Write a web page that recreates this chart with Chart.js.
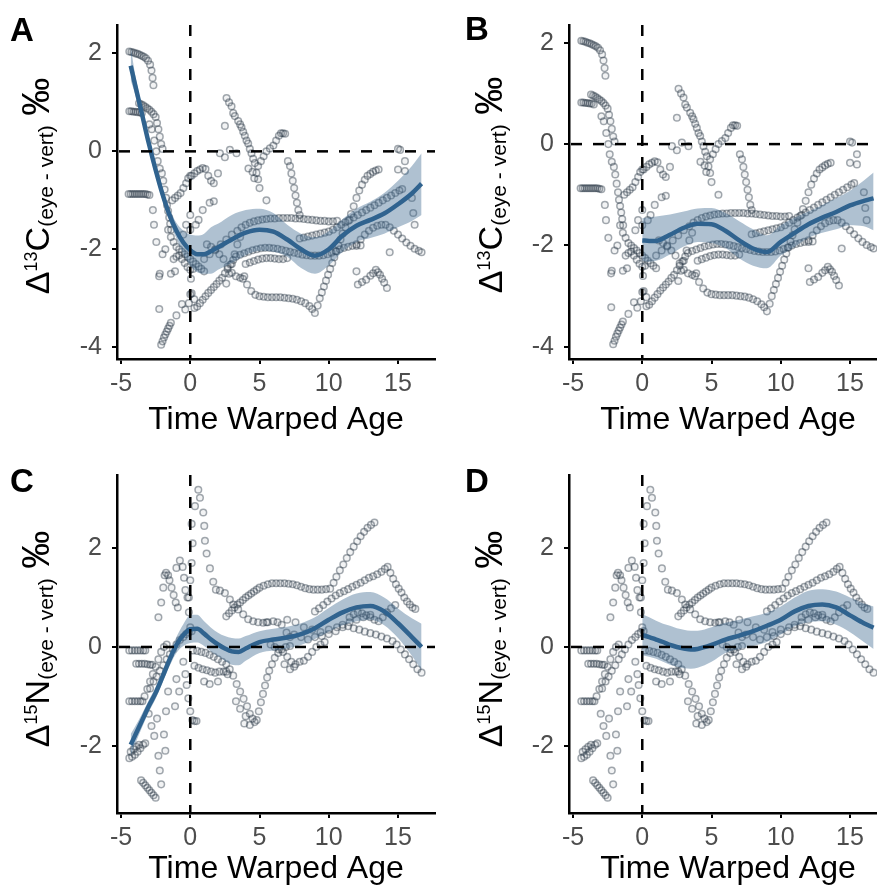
<!DOCTYPE html>
<html lang="en">
<head>
<meta charset="UTF-8">
<title>Eye - vertebra isotope offsets by time warped age</title>
<script src="https://cdn.jsdelivr.net/npm/chart.js"></script>
<style>
  html, body { margin: 0; padding: 0; background: #fff; }
  body { width: 877px; height: 890px; overflow: hidden; position: relative;
         font-family: "Liberation Sans", Arial, sans-serif; }
  canvas { position: absolute; }
  .tag { position: absolute; font-weight: bold; font-size: 33px; line-height: 1; color: #000; }
  .ytitle { position: absolute; white-space: nowrap; font-size: 34px; line-height: 1; color: #000;
            transform: translate(-50%, -50%) rotate(-90deg); }
  .ytitle sup { font-size: 18px; vertical-align: 12px; line-height: 0; }
  .ytitle sub { font-size: 21px; vertical-align: -4px; line-height: 0; }
  .ytitle .pm { font-size: 38px; }
</style>
</head>
<body>
<canvas id="panelA" width="440" height="445" style="left:0;top:0"></canvas>
<canvas id="panelB" width="440" height="445" style="left:452px;top:0"></canvas>
<canvas id="panelC" width="440" height="440" style="left:0;top:450px"></canvas>
<canvas id="panelD" width="440" height="440" style="left:452px;top:450px"></canvas>

<div class="tag" style="left:10px;top:13px">A</div>
<div class="tag" style="left:465px;top:12px">B</div>
<div class="tag" style="left:10px;top:464px">C</div>
<div class="tag" style="left:465px;top:464px">D</div>

<div class="ytitle" style="left:36px;top:186px">Δ<sup>13</sup>C<sub>(eye - vert)</sub> <span class="pm">‰</span></div>
<div class="ytitle" style="left:489px;top:185px">Δ<sup>13</sup>C<sub>(eye - vert)</sub> <span class="pm">‰</span></div>
<div class="ytitle" style="left:36px;top:639px">Δ<sup>15</sup>N<sub>(eye - vert)</sub> <span class="pm">‰</span></div>
<div class="ytitle" style="left:489px;top:639px">Δ<sup>15</sup>N<sub>(eye - vert)</sub> <span class="pm">‰</span></div>

<script>
// tick values
const ageTicks = [-5, 0, 5, 10, 15];
const carbonTicks = [2, 0, -2, -4];
const nitrogenTicks = [2, 0, -2];

// smoother over all ages (panels A, C)
const fitAgeAllC = [-4.3, -4, -3.5, -3, -2.5, -2, -1.5, -1, -0.5, 0, 0.5, 1, 1.5, 2, 3, 4, 5, 6, 7, 8, 9, 10, 11, 12, 13, 14, 15, 16, 16.7];
const carbonFitAll = [1.75, 1.38, 0.78, 0.17, -0.38, -0.88, -1.3, -1.62, -1.86, -2.02, -2.1, -2.1, -2.04, -1.96, -1.8, -1.66, -1.6, -1.64, -1.8, -2.0, -2.13, -2.0, -1.72, -1.52, -1.4, -1.27, -1.08, -0.86, -0.66];
const carbonHiAll = [2.15, 1.6, 0.93, 0.3, -0.25, -0.76, -1.17, -1.46, -1.62, -1.7, -1.72, -1.68, -1.55, -1.48, -1.3, -1.2, -1.17, -1.26, -1.5, -1.68, -1.75, -1.63, -1.38, -1.17, -1.03, -0.85, -0.6, -0.3, -0.04];
const carbonLoAll = [1.45, 1.18, 0.63, 0.04, -0.51, -1.0, -1.43, -1.78, -2.1, -2.33, -2.47, -2.5, -2.5, -2.42, -2.28, -2.12, -2.03, -2.05, -2.15, -2.38, -2.5, -2.33, -2.05, -1.85, -1.77, -1.68, -1.55, -1.42, -1.3];

const fitAgeAllN = [-4.3, -4, -3.5, -3, -2.5, -2, -1.5, -1, -0.5, 0, 0.5, 1, 1.5, 2, 2.5, 3, 3.5, 4, 5, 6, 7, 8, 9, 10, 11, 12, 13, 14, 15, 16, 16.7];
const nitrogenFitAll = [-1.98, -1.8, -1.5, -1.2, -0.93, -0.6, -0.26, 0.04, 0.24, 0.36, 0.37, 0.27, 0.15, 0.05, -0.03, -0.09, -0.1, -0.03, 0.1, 0.15, 0.19, 0.26, 0.38, 0.55, 0.7, 0.8, 0.83, 0.72, 0.48, 0.2, 0.0];
const nitrogenHiAll = [-1.76, -1.62, -1.36, -1.08, -0.81, -0.48, -0.13, 0.2, 0.46, 0.64, 0.65, 0.52, 0.39, 0.29, 0.22, 0.18, 0.17, 0.22, 0.32, 0.37, 0.41, 0.48, 0.6, 0.79, 0.96, 1.08, 1.11, 1.0, 0.78, 0.58, 0.47];
const nitrogenLoAll = [-2.2, -1.98, -1.64, -1.32, -1.05, -0.72, -0.39, -0.12, 0.02, 0.08, 0.09, 0.02, -0.09, -0.19, -0.28, -0.36, -0.37, -0.28, -0.12, -0.07, -0.03, 0.04, 0.16, 0.31, 0.44, 0.52, 0.55, 0.44, 0.18, -0.18, -0.47];

// smoother from age 0 on (panels B, D)
const fitAgePostC = [0, 0.5, 1, 1.5, 2, 3, 4, 5, 6, 7, 8, 9, 10, 11, 12, 13, 14, 15, 16, 16.7];
const carbonFitPost = [-1.9, -1.91, -1.91, -1.86, -1.79, -1.65, -1.57, -1.58, -1.71, -1.9, -2.06, -2.13, -1.93, -1.75, -1.58, -1.45, -1.34, -1.21, -1.12, -1.07];
const carbonHiPost = [-1.46, -1.45, -1.43, -1.41, -1.39, -1.33, -1.27, -1.26, -1.36, -1.52, -1.68, -1.8, -1.6, -1.45, -1.33, -1.2, -1.07, -0.92, -0.72, -0.56];
const carbonLoPost = [-2.3, -2.32, -2.3, -2.25, -2.18, -2.02, -1.93, -1.95, -2.05, -2.25, -2.4, -2.45, -2.2, -2.03, -1.85, -1.75, -1.68, -1.6, -1.62, -1.7];

const fitAgePostN = [0, 0.5, 1, 1.5, 2, 2.5, 3, 3.5, 4, 5, 6, 7, 8, 9, 10, 11, 12, 13, 14, 15, 16, 16.7];
const nitrogenFitPost = [0.24, 0.2, 0.15, 0.1, 0.04, 0.0, -0.03, -0.05, -0.04, 0.04, 0.15, 0.23, 0.32, 0.43, 0.55, 0.72, 0.83, 0.86, 0.8, 0.64, 0.48, 0.39];
const nitrogenHiPost = [0.66, 0.6, 0.53, 0.47, 0.43, 0.38, 0.35, 0.33, 0.33, 0.4, 0.49, 0.55, 0.62, 0.69, 0.82, 1.0, 1.14, 1.17, 1.12, 1.0, 0.88, 0.82];
const nitrogenLoPost = [-0.17, -0.2, -0.24, -0.3, -0.36, -0.4, -0.43, -0.44, -0.42, -0.3, -0.12, -0.04, 0.02, 0.1, 0.25, 0.42, 0.5, 0.52, 0.45, 0.3, 0.1, -0.04];

// individual trajectories, [age, offset]
const carbonTracks = [
  [[-4.4,2.04],[-4.25,2.03],[-4.1,2.02],[-3.95,2.0],[-3.8,1.99],[-3.65,1.97],[-3.5,1.95],[-3.35,1.93],[-3.2,1.9],[-3.05,1.85],[-2.9,1.77],[-2.8,1.65],[-2.72,1.5],[-2.66,1.35]],
  [[-4.4,0.82],[-4.25,0.82],[-4.1,0.81],[-3.95,0.81],[-3.8,0.8],[-3.65,0.8],[-3.5,0.78]],
  [[-3.7,0.98],[-3.55,0.96],[-3.4,0.94],[-3.25,0.91],[-3.1,0.88],[-2.95,0.85],[-2.8,0.81],[-2.65,0.76],[-2.5,0.7],[-2.4,0.58],[-2.3,0.45],[-2.2,0.3],[-2.1,0.15],[-2.0,0.05]],
  [[-2.95,0.55],[-2.78,0.45],[-2.6,0.22],[-2.45,0.0],[-2.35,-0.2],[-2.2,-0.35],[-2.05,-0.45],[-1.95,-0.6],[-1.85,-0.78],[-1.75,-0.95],[-1.68,-1.1],[-1.6,-1.22],[-1.52,-1.35],[-1.45,-1.48],[-1.38,-1.6]],
  [[-4.45,-0.87],[-4.3,-0.87],[-4.15,-0.87],[-4.0,-0.87],[-3.85,-0.87],[-3.7,-0.87],[-3.55,-0.87],[-3.4,-0.87],[-3.25,-0.87],[-3.1,-0.88],[-2.95,-0.89]],
  [[-2.7,-1.2],[-2.62,-1.5],[-2.45,-1.85],[-2.25,-2.55],[-2.24,-3.22]],
  [[-2.1,-3.95],[-2.0,-3.88],[-1.9,-3.8],[-1.8,-3.74],[-1.7,-3.68],[-1.6,-3.62],[-1.5,-3.56],[-1.4,-3.5],[-1.0,-3.35],[-0.6,-3.12],[-0.36,-3.23],[0.0,-2.92],[0.29,-3.02]],
  [[0.3,-3.2],[0.5,-3.17],[0.7,-3.1],[0.9,-3.03],[1.1,-2.96],[1.3,-2.89],[1.5,-2.83],[1.7,-2.77],[1.9,-2.71],[2.1,-2.64],[2.3,-2.58],[2.5,-2.49],[2.7,-2.4],[2.9,-2.31],[3.1,-2.22],[3.3,-2.15],[3.6,-2.11],[3.9,-2.08],[4.2,-2.05],[4.5,-2.02],[4.8,-2.0],[5.1,-1.98],[5.4,-1.97],[5.7,-1.97],[6.0,-1.98],[6.3,-1.99],[6.6,-2.01],[6.9,-2.03],[7.2,-2.05],[7.5,-2.07],[7.8,-2.09],[8.1,-2.11],[8.4,-2.12],[8.7,-2.13],[9.0,-2.13],[9.3,-2.13],[9.6,-2.12],[9.9,-2.1],[10.2,-2.07],[10.5,-2.04],[10.8,-2.0],[11.1,-1.97],[11.4,-1.95],[11.7,-1.93],[12.0,-1.93],[12.3,-1.92]],
  [[1.0,-2.2],[1.4,-2.1],[1.8,-2.0],[2.2,-1.9],[2.6,-1.8],[3.0,-1.7],[3.4,-1.62],[3.7,-1.55],[4.0,-1.5],[4.3,-1.46],[4.6,-1.43],[4.9,-1.41],[5.2,-1.39],[5.5,-1.38],[5.8,-1.37],[6.1,-1.37],[6.4,-1.36],[6.7,-1.36],[7.0,-1.36],[7.3,-1.36],[7.6,-1.37],[7.9,-1.37],[8.2,-1.38],[8.5,-1.39],[8.8,-1.4],[9.1,-1.41],[9.4,-1.42],[9.7,-1.42],[10.0,-1.43],[10.3,-1.43],[10.6,-1.42]],
  [[7.9,-1.78],[8.2,-1.76],[8.5,-1.74],[8.8,-1.72],[9.1,-1.7],[9.4,-1.68],[9.7,-1.66],[10.0,-1.64],[10.3,-1.6],[10.6,-1.55],[10.9,-1.5],[11.2,-1.45],[11.5,-1.4],[11.8,-1.35],[12.1,-1.3],[12.4,-1.25],[12.7,-1.2],[13.0,-1.15],[13.3,-1.1],[13.6,-1.05],[13.9,-1.0],[14.2,-0.95],[14.5,-0.9],[14.8,-0.85],[15.1,-0.8],[15.3,-0.77]],
  [[3.8,-2.6],[4.1,-2.72],[4.4,-2.85],[4.7,-2.93],[5.0,-2.96],[5.3,-2.97],[5.6,-2.98],[5.9,-2.98],[6.2,-2.98],[6.5,-2.98],[6.8,-2.99],[7.1,-3.0],[7.4,-3.01],[7.7,-3.03],[8.0,-3.06],[8.3,-3.1],[8.6,-3.16],[8.8,-3.22],[9.0,-3.3],[9.2,-3.15],[9.35,-3.0],[9.5,-2.88],[9.65,-2.76],[9.8,-2.64],[9.95,-2.52],[10.1,-2.4],[10.25,-2.28],[10.4,-2.16],[10.55,-2.04],[10.7,-1.92],[10.85,-1.8],[11.0,-1.68],[11.2,-1.55],[11.4,-1.42],[11.6,-1.28],[11.8,-1.12],[12.0,-0.95],[12.2,-0.8],[12.4,-0.68],[12.6,-0.58],[12.8,-0.5],[13.0,-0.46],[13.2,-0.42],[13.4,-0.39],[13.6,-0.37]],
  [[12.0,-1.9],[12.3,-1.8],[12.6,-1.7],[12.9,-1.62],[13.2,-1.56],[13.5,-1.52],[13.8,-1.5],[14.1,-1.5],[14.4,-1.55],[14.7,-1.62],[15.0,-1.7],[15.3,-1.78],[15.6,-1.86],[15.9,-1.93],[16.2,-1.99],[16.5,-2.03],[16.7,-2.06]],
  [[12.1,-2.72],[12.4,-2.67],[12.7,-2.62],[13.0,-2.54],[13.2,-2.49],[13.4,-2.42],[13.55,-2.47],[13.7,-2.52],[13.85,-2.6],[14.0,-2.68],[14.2,-2.79]],
  [[15.0,0.05],[15.15,0.03],[15.5,-0.2],[15.0,-0.37],[15.5,-0.4],[16.0,-0.95],[16.1,-1.26],[16.2,-1.5],[14.4,-2.06],[12.0,-2.45]],
  [[2.5,0.52],[2.62,1.09],[2.8,1.0],[2.98,0.92],[3.1,0.78],[3.22,0.72],[3.46,0.62],[3.6,0.55],[3.7,0.49],[3.82,0.4],[3.94,0.32],[4.06,0.22],[4.18,0.16],[4.3,0.05],[4.42,-0.04],[4.54,-0.15],[4.66,-0.24],[4.78,-0.44],[4.9,-0.57],[5.0,-0.75]],
  [[2.14,-0.04],[2.86,0.03],[3.34,-0.04],[4.2,-0.35],[4.5,-0.42],[4.62,-0.55],[5.5,-1.0]],
  [[4.9,-0.3],[5.1,-0.2],[5.3,-0.1],[5.5,0.0],[5.75,0.06],[6.0,0.12],[6.2,0.22],[6.4,0.32],[6.55,0.37],[6.7,0.37],[6.85,0.36],[7.05,-0.2],[7.2,-0.3],[7.3,-0.45],[7.4,-0.6],[7.5,-0.75],[7.6,-0.9],[7.7,-1.05],[7.8,-1.2],[7.9,-1.3]],
  [[0.1,-0.5],[0.3,-0.45],[0.5,-0.4],[0.7,-0.37],[0.9,-0.34],[1.1,-0.36],[1.3,-0.5],[1.5,-0.6],[1.7,-0.65],[1.4,-1.05],[1.7,-1.02],[0.9,-1.2],[2.0,-0.45],[2.5,-0.12]],
  [[-1.3,-1.0],[-1.1,-0.95],[-0.9,-0.9],[-0.7,-0.85],[-0.5,-0.75],[-0.3,-0.65],[-0.15,-0.55],[0.0,-0.5]],
  [[-1.6,-1.6],[-1.4,-1.75],[-1.2,-1.85],[-1.0,-1.95],[-0.8,-2.0],[-0.6,-2.05],[-0.4,-2.1],[-0.2,-2.15],[0.0,-2.2],[0.2,-2.25],[0.4,-2.3],[0.6,-2.35],[0.8,-2.4],[1.0,-2.45]],
  [[-1.2,-2.2],[-1.0,-2.15],[-0.8,-2.12],[-0.6,-2.2],[-0.4,-2.28],[-0.2,-2.36],[0.0,-2.42],[0.2,-2.4]],
  [[-1.4,-2.5],[-1.1,-2.45],[-0.5,-1.7],[-0.3,-1.5],[0.4,-1.5],[0.6,-1.4],[-2.2,-2.5],[-2.0,-2.1],[-1.8,-2.0],[0.0,-1.3],[0.0,-1.6],[0.05,-2.6],[0.1,-2.9],[-0.1,-3.1]],
  [[1.2,-1.9],[1.5,-1.95],[1.8,-2.02],[2.1,-2.1],[2.4,-2.2],[2.7,-2.35],[3.0,-2.48],[3.3,-2.55],[3.6,-2.58],[3.9,-2.55]],
  [[2.6,-2.7],[2.8,-2.5],[3.0,-2.3],[3.2,-2.1],[3.4,-1.9],[3.6,-1.75]],
  [[4.0,-2.3],[4.3,-2.27],[4.6,-2.24],[4.9,-2.21],[5.2,-2.19],[5.5,-2.18],[5.8,-2.18],[6.1,-2.19],[6.4,-2.2],[6.7,-2.2],[7.0,-2.18]]
];

const nitrogenTracks = [
  [[0.58,3.18],[0.7,3.02],[0.34,2.85],[0.94,2.72],[0.1,2.49],[1.01,2.45],[0.17,2.1],[1.06,2.15],[1.18,1.89],[1.42,1.59],[1.66,1.32],[1.85,1.16],[2.14,1.14],[2.5,1.09],[2.86,0.96],[3.1,0.86],[3.46,0.76],[3.82,0.66],[4.18,0.56],[4.54,0.52],[4.9,0.5],[5.26,0.49],[5.6,0.5],[5.99,0.52],[6.3,0.5],[6.6,0.45],[6.95,0.29],[7.2,0.2]],
  [[0.1,1.7],[0.0,1.35],[-0.1,1.0],[-0.1,0.7],[0.0,0.4]],
  [[2.6,0.62],[2.8,0.68],[3.0,0.74],[3.2,0.8],[3.4,0.86],[3.6,0.9],[3.8,0.95],[4.0,1.0],[4.2,1.04],[4.4,1.08],[4.6,1.12],[4.8,1.16],[5.0,1.2],[5.3,1.24],[5.6,1.27],[5.9,1.29],[6.2,1.29],[6.5,1.29],[6.8,1.29],[7.1,1.28],[7.4,1.27],[7.7,1.25],[8.0,1.22],[8.3,1.19],[8.6,1.17],[8.9,1.16],[9.2,1.16],[9.5,1.16],[9.8,1.17],[10.1,1.18],[10.35,1.3],[10.55,1.42],[10.8,1.55],[11.05,1.67],[11.3,1.8],[11.55,1.92],[11.8,2.03],[12.05,2.14],[12.3,2.24],[12.55,2.33],[12.8,2.41],[13.05,2.47],[13.3,2.52]],
  [[9.0,0.72],[9.3,0.78],[9.6,0.85],[9.9,0.92],[10.2,0.98],[10.5,1.04],[10.8,1.09],[11.1,1.13],[11.4,1.17],[11.7,1.22],[12.0,1.26],[12.3,1.3],[12.6,1.35],[12.9,1.4],[13.2,1.43],[13.5,1.47],[13.8,1.52],[14.05,1.58],[14.25,1.62],[14.45,1.5],[14.65,1.38],[14.85,1.27],[15.05,1.18],[15.25,1.1],[15.45,1.0],[15.65,0.92],[15.85,0.86],[16.05,0.8],[16.25,0.77]],
  [[11.0,0.45],[11.4,0.42],[11.8,0.38],[12.2,0.35],[12.6,0.31],[13.0,0.28],[13.4,0.25],[13.8,0.21],[14.2,0.17],[14.6,0.12],[14.9,0.05],[15.2,-0.05],[15.5,-0.15],[15.8,-0.25],[16.1,-0.35],[16.4,-0.45],[16.7,-0.52]],
  [[11.5,0.6],[11.8,0.66],[12.1,0.7],[12.4,0.68],[12.7,0.64],[13.0,0.6],[13.3,0.55],[13.6,0.52],[13.9,0.6],[14.2,0.7],[14.5,0.78],[14.8,0.85]],
  [[-4.4,-0.07],[-4.2,-0.07],[-4.0,-0.07],[-3.8,-0.07],[-3.6,-0.07],[-3.4,-0.07],[-3.25,-0.07]],
  [[-3.9,-0.34],[-3.7,-0.34],[-3.5,-0.34],[-3.3,-0.34],[-3.1,-0.35],[-2.9,-0.36],[-2.75,-0.36]],
  [[-4.4,-1.1],[-4.2,-1.1],[-4.0,-1.1],[-3.8,-1.1],[-3.6,-1.1],[-3.45,-1.1],[-3.3,-1.0],[-3.1,-0.85],[-2.9,-0.7],[-2.7,-0.55],[-2.5,-0.4],[-2.3,-0.25],[-2.1,-0.1],[-1.9,0.0],[-1.7,0.05]],
  [[-4.4,-2.25],[-4.2,-2.22],[-4.0,-2.18],[-3.8,-2.12],[-3.6,-2.05],[-3.4,-1.98],[-3.25,-1.95]],
  [[-4.3,-2.12],[-4.1,-2.07],[-3.9,-2.02],[-3.7,-1.98]],
  [[-3.55,-2.7],[-3.4,-2.75],[-3.25,-2.8],[-3.1,-2.85],[-2.95,-2.9],[-2.8,-2.95],[-2.65,-3.0],[-2.5,-3.05]],
  [[-2.2,-2.5],[-2.1,-2.78],[-2.3,-2.2],[-1.9,-1.77],[-1.75,-1.3],[-1.6,-0.9],[-3.0,-1.35],[-2.8,-1.6],[-2.6,-1.8],[-2.4,-1.45],[-1.8,-2.1],[-1.0,-0.65],[-1.1,-1.2],[-0.8,-0.9]],
  [[-2.3,0.6],[-2.1,0.9],[-1.95,1.2],[-1.85,1.45],[-1.75,1.5],[-1.6,1.45],[-1.5,1.35],[-1.35,1.2],[-1.2,1.05],[-1.05,0.9],[-0.9,0.8]],
  [[-1.0,1.6],[-0.75,1.75],[-0.55,1.62],[-0.45,1.4],[-0.35,1.15],[-0.2,1.0]],
  [[-2.9,-0.84],[-2.65,-0.7],[-2.43,-0.6],[-2.2,-0.48],[-1.95,-0.37],[-1.7,-0.25],[-1.47,-0.15],[-1.25,-0.05],[-1.0,0.05],[-0.75,0.14],[-0.5,0.2],[-0.3,0.26],[-0.1,0.3],[0.1,0.32]],
  [[-0.5,-0.3],[-0.35,-0.55],[-0.26,-0.77],[-0.14,-1.04],[0.0,-1.3],[0.15,-1.48],[0.3,-1.5],[0.45,-1.5]],
  [[0.2,-0.07],[0.5,-0.08],[0.8,-0.1],[1.1,-0.12],[1.4,-0.16],[1.7,-0.2],[2.0,-0.25],[2.3,-0.3],[2.6,-0.35],[2.85,-0.45],[3.1,-0.58],[3.35,-0.75],[3.6,-0.9],[3.85,-1.05],[4.1,-1.2],[4.3,-1.35],[4.5,-1.45],[4.65,-1.52],[4.8,-1.48],[4.95,-1.3],[5.1,-1.12],[5.25,-0.95],[5.4,-0.78],[5.55,-0.62],[5.7,-0.48],[5.9,-0.35],[6.1,-0.22],[6.35,-0.12],[6.6,-0.05],[6.9,0.0],[7.2,0.02]],
  [[0.3,-0.38],[0.6,-0.42],[0.9,-0.45],[1.2,-0.47],[1.5,-0.5],[1.8,-0.52],[2.1,-0.5],[2.4,-0.5],[2.6,-0.5],[2.7,-0.55]],
  [[1.0,-0.7],[1.4,-0.75],[2.0,-0.7],[3.3,-1.1],[3.6,-1.25],[4.0,-1.4],[4.3,-1.58],[3.9,-1.55]],
  [[5.8,0.05],[6.1,0.0],[6.4,-0.05],[6.7,-0.1],[7.0,-0.2],[7.3,-0.3],[7.6,-0.35],[7.9,-0.3],[8.2,-0.28],[8.5,-0.2],[8.8,-0.1],[9.1,0.0],[9.4,0.05],[9.7,0.1]],
  [[6.8,-0.35],[7.2,-0.45],[7.5,-0.4]],
  [[5.5,0.5],[7.0,0.55],[7.6,0.5],[8.2,0.4],[8.8,0.35],[9.4,0.3],[10.0,0.35],[10.6,0.4]],
  [[7.5,0.25],[8.0,0.2],[8.5,0.15],[9.0,0.2],[9.5,0.22],[10.0,0.26],[10.5,0.32],[11.0,0.4],[11.5,0.5],[12.0,0.55],[12.5,0.6],[13.0,0.65]]
];

const FONT = '"Liberation Sans", Arial, sans-serif';
const lineBlue = '#30638f';
const bandFill = 'rgba(54, 100, 139, 0.4)';

// dashed reference lines at age 0 and offset 0
const zeroLines = {
  id: 'zeroLines',
  afterDatasetsDraw(chart) {
    const {ctx, chartArea: a, scales: {x, y}} = chart;
    const px = x.getPixelForValue(0), py = y.getPixelForValue(0);
    ctx.save();
    ctx.beginPath();
    ctx.rect(a.left, a.top, a.width, a.height);
    ctx.clip();
    ctx.strokeStyle = '#000';
    ctx.lineWidth = 2.5;
    ctx.setLineDash([11, 11]);
    ctx.beginPath(); ctx.moveTo(a.left + 2, py); ctx.lineTo(a.right, py); ctx.stroke();
    ctx.beginPath(); ctx.moveTo(px, a.top); ctx.lineTo(px, a.bottom); ctx.stroke();
    ctx.restore();
  }
};

function panelChart(id, cfg) {
  const xy = arr => cfg.fitAge.map((x, i) => ({x, y: arr[i]}));
  const pts = cfg.tracks.flat().map(([x, y]) => ({x, y}));
  const smooth = {type: 'line', pointRadius: 0, cubicInterpolationMode: 'monotone'};
  return new Chart(document.getElementById(id), {
    type: 'scatter',
    data: {
      datasets: [
        {...smooth, data: xy(cfg.fit), borderColor: lineBlue, borderWidth: 4.5, fill: false, order: 0},
        {...smooth, data: xy(cfg.lo), borderColor: 'transparent', borderWidth: 0, fill: false, order: 1},
        {...smooth, data: xy(cfg.hi), borderColor: 'transparent', borderWidth: 0, fill: 1, backgroundColor: bandFill, order: 2},
        {data: pts, pointRadius: 3.3, borderWidth: 1.5, borderColor: 'rgba(35, 50, 65, 0.42)',
         backgroundColor: 'rgba(35, 50, 65, 0.06)', order: 3}
      ]
    },
    options: {
      responsive: false,
      animation: false,
      events: [],
      layout: {autoPadding: false, padding: {top: cfg.padTop, right: 5, left: 0, bottom: 0}},
      plugins: {legend: {display: false}, tooltip: {enabled: false}},
      scales: {
        x: {
          type: 'linear', min: -5.29, max: 17.67,
          afterBuildTicks: s => { s.ticks = ageTicks.map(v => ({value: v})); },
          afterFit: s => { s.height = cfg.xHeight; },
          border: {display: true, color: '#000', width: 2.5},
          grid: {drawOnChartArea: false, drawTicks: true, tickLength: 5, color: '#000', lineWidth: 2},
          ticks: {color: '#4d4d4d', font: {family: FONT, size: 25}, padding: 5, maxRotation: 0,
                  autoSkip: false, callback: v => String(v)},
          title: {display: true, text: 'Time Warped Age', color: '#000',
                  font: {family: FONT, size: 32}, padding: {top: 0, bottom: cfg.titlePad}}
        },
        y: {
          type: 'linear', min: cfg.yMin, max: cfg.yMax,
          afterBuildTicks: s => { s.ticks = cfg.yTicks.map(v => ({value: v})); },
          afterFit: s => { s.width = 117; },
          border: {display: true, color: '#000', width: 2.5},
          grid: {drawOnChartArea: false, drawTicks: true, tickLength: 5, color: '#000', lineWidth: 2},
          ticks: {color: '#4d4d4d', font: {family: FONT, size: 25}, padding: 10,
                  autoSkip: false, callback: v => String(v)}
        }
      }
    },
    plugins: [zeroLines]
  });
}

panelChart('panelA', {fitAge: fitAgeAllC, fit: carbonFitAll, lo: carbonLoAll, hi: carbonHiAll,
  tracks: carbonTracks, yMin: -4.24, yMax: 2.58, yTicks: carbonTicks, padTop: 15, xHeight: 86, titlePad: 6});
panelChart('panelB', {fitAge: fitAgePostC, fit: carbonFitPost, lo: carbonLoPost, hi: carbonHiPost,
  tracks: carbonTracks, yMin: -4.24, yMax: 2.35, yTicks: carbonTicks, padTop: 15, xHeight: 86, titlePad: 6});
panelChart('panelC', {fitAge: fitAgeAllN, fit: nitrogenFitAll, lo: nitrogenLoAll, hi: nitrogenHiAll,
  tracks: nitrogenTracks, yMin: -3.36, yMax: 3.48, yTicks: nitrogenTicks, padTop: 20, xHeight: 77, titlePad: 2});
panelChart('panelD', {fitAge: fitAgePostN, fit: nitrogenFitPost, lo: nitrogenLoPost, hi: nitrogenHiPost,
  tracks: nitrogenTracks, yMin: -3.36, yMax: 3.48, yTicks: nitrogenTicks, padTop: 20, xHeight: 77, titlePad: 2});
</script>
</body>
</html>
